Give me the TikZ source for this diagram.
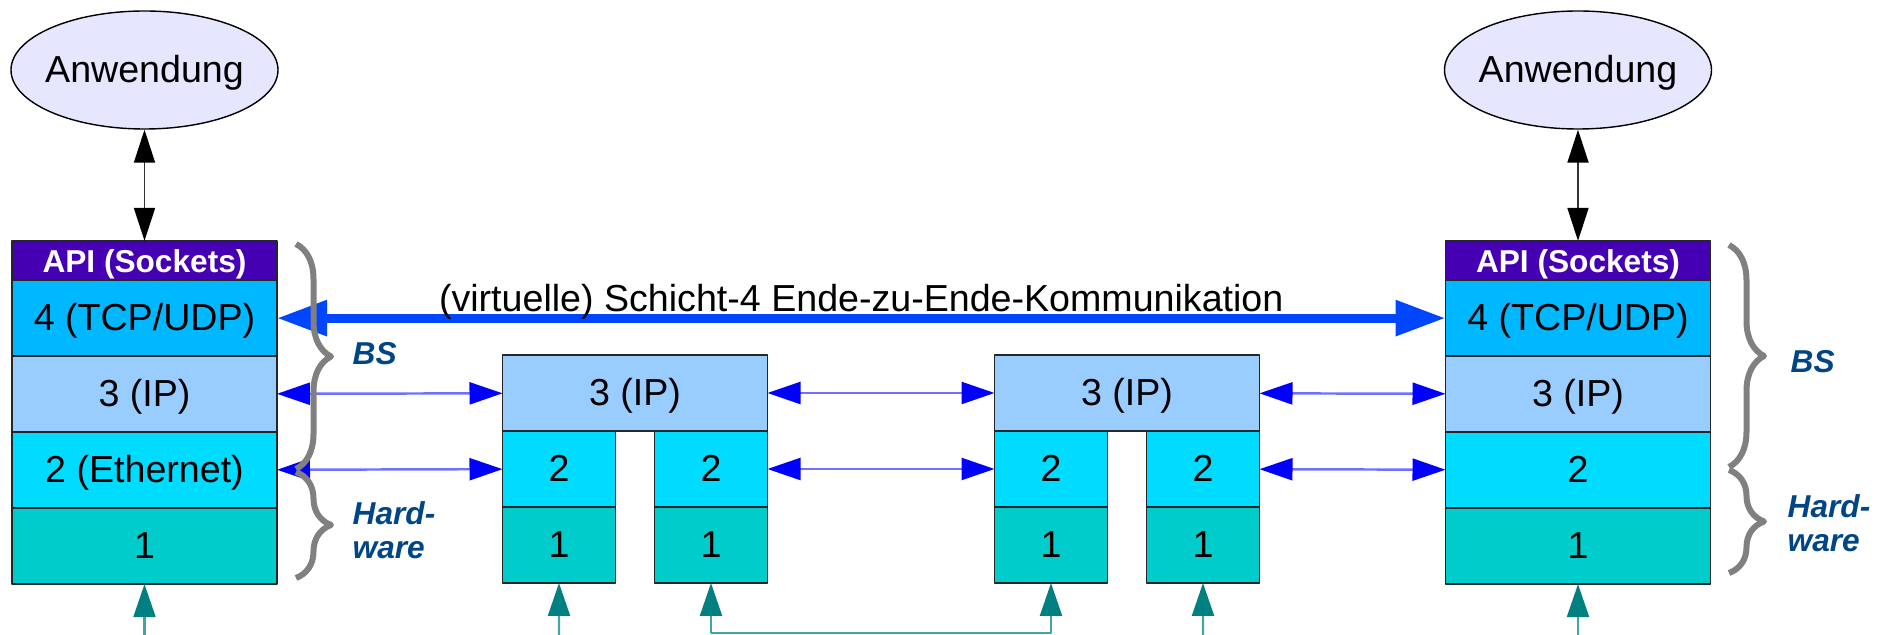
\documentclass[tikz,border=0pt]{standalone}
\usepackage{fontspec}
\setmainfont{Liberation Sans}
\usetikzlibrary{arrows.meta}
\usetikzlibrary{positioning}
\usetikzlibrary{shapes.geometric}
\usetikzlibrary{decorations.pathreplacing}

\definecolor{appfill}{HTML}{E6E6FF}
\definecolor{apifill}{HTML}{4600B4}
\definecolor{tcpfill}{HTML}{00B8FF}
\definecolor{ipfill}{HTML}{99CCFF}
\definecolor{ethfill}{HTML}{00DCFF}
\definecolor{phyfill}{HTML}{00CCCC}
\definecolor{linkblue}{HTML}{0000FF}
\definecolor{linkline}{HTML}{7070FF}
\definecolor{endblue}{HTML}{0046FF}
\definecolor{wireteal}{HTML}{008080}
\definecolor{wireline}{HTML}{40A6A6}
\definecolor{bracegray}{HTML}{808080}
\definecolor{labelblue}{HTML}{004586}

\begin{document}
\begin{tikzpicture}[line cap=round,line join=round,x=1cm,y=1cm,
  layer/.style={draw=black!85,line width=0.5pt,outer sep=0pt,inner sep=0pt,
    minimum width=2.65cm,minimum height=0.76cm,text height=0.905em,text depth=0.212em,
    font=\fontsize{10.7}{12}\selectfont},
  half/.style={layer,minimum width=1.13cm},
  apibox/.style={layer,fill=apifill,minimum height=0.37cm,text=white,
    font=\fontsize{9}{10}\selectfont\bfseries},
  app/.style={ellipse,draw,line width=0.4pt,fill=appfill,inner ysep=0pt,inner xsep=-0.06cm,
    minimum width=2.67cm,minimum height=1.18cm,text height=0.905em,text depth=0.212em,
    font=\fontsize{10.7}{12}\selectfont},
  applink/.style={draw=black!80,line width=0.5pt,
    {Triangle[length=0.33cm,width=0.21cm,color=black]}-{Triangle[length=0.33cm,width=0.21cm,color=black]}},
  iplink/.style={draw=linkline,line width=0.7pt,
    {Triangle[length=0.33cm,width=0.22cm,color=linkblue]}-{Triangle[length=0.33cm,width=0.22cm,color=linkblue]}},
  e2e/.style={draw=endblue,line width=0.09cm,line cap=butt,
    {Triangle[length=0.5cm,width=0.34cm]}-{Triangle[length=0.5cm,width=0.34cm]}},
  wire/.style={draw=wireline,line width=0.6pt,-{Triangle[length=0.33cm,width=0.22cm,color=wireteal]}},
  wirepair/.style={draw=wireline,line width=0.6pt,
    {Triangle[length=0.33cm,width=0.22cm,color=wireteal]}-{Triangle[length=0.33cm,width=0.22cm,color=wireteal]}},
  bracket/.style={draw=bracegray,line width=0.06cm,line cap=butt,decorate,
    decoration={brace,amplitude=0.35cm}},
  side/.style={text=labelblue,inner sep=0pt,align=left,
    font=\fontsize{9}{9.7}\selectfont\bfseries\itshape}]

\useasboundingbox (0,0) rectangle (18.84,6.35);

% end systems
\node[app] (appL) at (1.445,5.65) {Anwendung};
\node[apibox] (apiL) at (1.445,3.745) {API (Sockets)};
\node[layer,fill=tcpfill,below=0pt of apiL] (l4L) {4 (TCP/UDP)};
\node[layer,fill=ipfill,below=0pt of l4L] (l3L) {3 (IP)};
\node[layer,fill=ethfill,below=0pt of l3L] (l2L) {2 (Ethernet)};
\node[layer,fill=phyfill,below=0pt of l2L] (l1L) {1};

\node[app] (appR) at (15.78,5.65) {Anwendung};
\node[apibox] (apiR) at (15.78,3.745) {API (Sockets)};
\node[layer,fill=tcpfill,below=0pt of apiR] (l4R) {4 (TCP/UDP)};
\node[layer,fill=ipfill,below=0pt of l4R] (l3R) {3 (IP)};
\node[layer,fill=ethfill,below=0pt of l3R] (l2R) {2};
\node[layer,fill=phyfill,below=0pt of l2R] (l1R) {1};

% routers
\node[layer,fill=ipfill] (r1ip) at (6.35,2.42) {3 (IP)};
\node[half,fill=ethfill,anchor=north west] (r1l2a) at (r1ip.south west) {2};
\node[half,fill=ethfill,anchor=north east] (r1l2b) at (r1ip.south east) {2};
\node[half,fill=phyfill,below=0pt of r1l2a] (r1l1a) {1};
\node[half,fill=phyfill,below=0pt of r1l2b] (r1l1b) {1};

\node[layer,fill=ipfill] (r2ip) at (11.27,2.42) {3 (IP)};
\node[half,fill=ethfill,anchor=north west] (r2l2a) at (r2ip.south west) {2};
\node[half,fill=ethfill,anchor=north east] (r2l2b) at (r2ip.south east) {2};
\node[half,fill=phyfill,below=0pt of r2l2a] (r2l1a) {1};
\node[half,fill=phyfill,below=0pt of r2l2b] (r2l1b) {1};

% links between the layers
\draw[applink] (appL) -- (apiL);
\draw[applink] (appR) -- (apiR);
\draw[e2e] (l4L) -- (l4R)
  node[midway,anchor=base,yshift=0.07cm,text=black,font=\fontsize{10.7}{12}\selectfont] (e2etext)
  {(virtuelle) Schicht-4 Ende-zu-Ende-Kommunikation};
\draw[iplink] (l3L) -- (r1ip);
\draw[iplink] (r1ip) -- (r2ip);
\draw[iplink] (r2ip) -- (l3R);
\draw[iplink] (l2L) -- (r1l2a);
\draw[iplink] (r1l2b) -- (r2l2a);
\draw[iplink] (r2l2b) -- (l2R);

% physical wires
\coordinate (wireL) at (1.445,0);
\coordinate (wireA) at (5.59,0);
\coordinate (bus) at (8.8,0.02);
\coordinate (wireB) at (12.03,0);
\coordinate (wireR) at (15.78,0);
\draw[wire] (wireL) -- (l1L);
\draw[wire] (wireA) -- (r1l1a);
\draw[wirepair] (r1l1b) |- (bus) -| (r2l1a);
\draw[wire] (wireB) -- (r2l1b);
\draw[wire] (wireR) -- (l1R);

% braces
\draw[bracket] (2.96,3.91) -- (2.96,1.66);
\draw[bracket] (2.96,1.63) -- (2.96,0.57);
\draw[bracket] (17.29,3.90) -- (17.29,1.68);
\draw[bracket] (17.29,1.65) -- (17.29,0.62);

\node[side,anchor=west] (bsL) at (3.52,2.81) {BS};
\node[side,anchor=west] (hwL) at (3.52,1.05) {Hard-\\ware};
\node[side,anchor=west] (bsR) at (17.90,2.73) {BS};
\node[side,anchor=west] (hwR) at (17.87,1.12) {Hard-\\ware};

\end{tikzpicture}
\end{document}
